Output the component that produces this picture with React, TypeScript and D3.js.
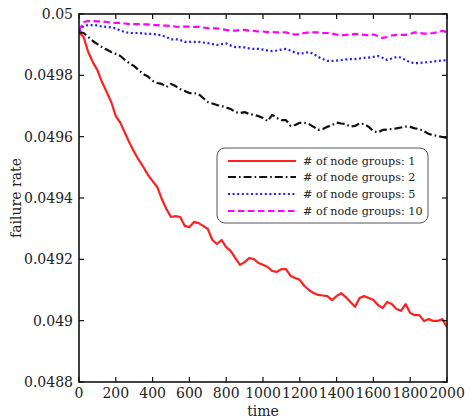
import React from "react";
import * as d3 from "d3";

const times: number[] = d3.range(0, 2001, 25);

const groups1: number[] = [
  0.04994, 0.049925, 0.049876, 0.049843, 0.049817, 0.049778, 0.049746, 0.049713, 0.049667, 0.049645,
  0.049612, 0.049579, 0.04955, 0.049524, 0.049501, 0.049475, 0.049455, 0.049436, 0.049397, 0.049364,
  0.049338, 0.049341, 0.049338, 0.049309, 0.049305, 0.049322, 0.049318, 0.049309, 0.049299, 0.049263,
  0.04925, 0.049263, 0.04924, 0.049227, 0.049204, 0.049182, 0.049191, 0.049204, 0.049201, 0.049188,
  0.049182, 0.049175, 0.049162, 0.049159, 0.049168, 0.049168, 0.049146, 0.049139, 0.049133, 0.049113,
  0.0491, 0.04909, 0.049084, 0.049082, 0.04908, 0.049067, 0.04908, 0.04909, 0.049077, 0.049061,
  0.049045, 0.049074, 0.04908, 0.049074, 0.049067, 0.049051, 0.049041, 0.049061, 0.049054, 0.049038,
  0.049032, 0.049054, 0.049025, 0.049018, 0.049018, 0.048999, 0.049005, 0.048999, 0.048999, 0.049005,
  0.048979,
];

const groups2: number[] = [
  0.049941, 0.049938, 0.049925, 0.049912, 0.049902, 0.049892, 0.049884, 0.049876, 0.04987, 0.049863,
  0.04985, 0.049839, 0.04983, 0.049817, 0.049804, 0.049796, 0.049782, 0.049775, 0.049772, 0.049762,
  0.049772, 0.049765, 0.049755, 0.049749, 0.049742, 0.049742, 0.049739, 0.049726, 0.049713, 0.049708,
  0.049703, 0.0497, 0.049695, 0.04969, 0.04968, 0.049677, 0.04968, 0.049674, 0.049671, 0.049667,
  0.049661, 0.049651, 0.049671, 0.049661, 0.049654, 0.049654, 0.049635, 0.049638, 0.049645, 0.049645,
  0.049641, 0.049632, 0.049622, 0.049625, 0.049632, 0.049638, 0.049646, 0.049643, 0.049641, 0.049633,
  0.049635, 0.049643, 0.049641, 0.049632, 0.049618, 0.049614, 0.049622, 0.049623, 0.049625, 0.049627,
  0.04963, 0.049633, 0.049632, 0.049627, 0.049625, 0.049618, 0.049609, 0.049605, 0.049602, 0.049599,
  0.049596,
];

const groups5: number[] = [
  0.049945, 0.049961, 0.049964, 0.049964, 0.049963, 0.049959, 0.049958, 0.049956, 0.049953, 0.049946,
  0.049941, 0.049938, 0.049938, 0.049938, 0.049936, 0.049935, 0.049935, 0.049933, 0.04993, 0.049925,
  0.049917, 0.049918, 0.049915, 0.049909, 0.049909, 0.049909, 0.049909, 0.049907, 0.049905, 0.049902,
  0.049899, 0.049902, 0.049904, 0.049897, 0.049892, 0.049892, 0.049891, 0.049888, 0.049886, 0.049886,
  0.049884, 0.049881, 0.049879, 0.049881, 0.049884, 0.049886, 0.049881, 0.049874, 0.04987, 0.049873,
  0.049876, 0.04987, 0.04986, 0.049853, 0.049847, 0.049847, 0.049848, 0.04985, 0.049852, 0.049853,
  0.049853, 0.049855, 0.049857, 0.049858, 0.04986, 0.049863, 0.049857, 0.04985, 0.049855, 0.04986,
  0.049858, 0.04985, 0.049842, 0.04984, 0.04984, 0.049842, 0.049843, 0.049845, 0.049847, 0.049848,
  0.04985,
];

const groups10: number[] = [
  0.049945, 0.049974, 0.049977, 0.049977, 0.049976, 0.049976, 0.049974, 0.049972, 0.049971, 0.049971,
  0.049969, 0.049967, 0.049967, 0.049967, 0.049966, 0.049966, 0.049964, 0.049964, 0.049962, 0.049962,
  0.049961, 0.049959, 0.049958, 0.049959, 0.049959, 0.049958, 0.049958, 0.049956, 0.049954, 0.049953,
  0.049953, 0.049951, 0.049948, 0.049946, 0.049946, 0.049948, 0.049948, 0.049946, 0.049945, 0.049943,
  0.049943, 0.049941, 0.049941, 0.04994, 0.04994, 0.04994, 0.049936, 0.049933, 0.049935, 0.049938,
  0.04994, 0.04994, 0.04994, 0.049938, 0.049938, 0.049936, 0.049933, 0.04993, 0.049932, 0.049933,
  0.049935, 0.049933, 0.049932, 0.04993, 0.049933, 0.049928, 0.049922, 0.049925, 0.04993, 0.049932,
  0.049932, 0.049932, 0.049935, 0.04994, 0.049938, 0.049936, 0.049936, 0.049938, 0.049941, 0.049945,
  0.049941,
];

const xTicks: number[] = [0, 200, 400, 600, 800, 1000, 1200, 1400, 1600, 1800, 2000];
const yTicks: number[] = [0.0488, 0.049, 0.0492, 0.0494, 0.0496, 0.0498, 0.05];
const yTickLabels: string[] = ["0.0488", "0.049", "0.0492", "0.0494", "0.0496", "0.0498", "0.05"];
const seriesLabels: string[] = [
  "# of node groups: 1",
  "# of node groups: 2",
  "# of node groups: 5",
  "# of node groups: 10",
];

const W = 465;
const H = 420;
const M = { left: 79, right: 447, top: 14, bottom: 382 };
const FONT = "'DejaVu Serif', serif";

const styles = [
  { color: "#ff1f1f", dash: "", width: 2.2 },
  { color: "#111111", dash: "8,3,1.6,3", width: 2.2 },
  { color: "#1f1fff", dash: "2,2.6", width: 2.2 },
  { color: "#ff00ff", dash: "6.5,3.5", width: 2.2 },
];

export default function App() {
  const x = d3.scaleLinear().domain([0, 2000]).range([M.left, M.right]);
  const y = d3.scaleLinear().domain([0.0488, 0.05]).range([M.bottom, M.top]);
  const line = d3
    .line<number>()
    .x((_, i) => x(times[i]))
    .y((d) => y(d));
  const data = [groups1, groups2, groups5, groups10];
  const tickLen = 5;

  const legend = { x: 217, y: 148, w: 211, h: 75 };
  const rowY = [161, 177, 194, 211];

  return (
    <svg
      width={W}
      height={H}
      style={{ position: "absolute", left: 0, top: 0, background: "#fff" }}
      fontFamily={FONT}
    >
      <defs>
        <clipPath id="plot">
          <rect x={M.left} y={M.top} width={M.right - M.left} height={M.bottom - M.top} />
        </clipPath>
      </defs>
      <g clipPath="url(#plot)">
        {data.map((d, i) => (
          <path
            key={i}
            d={line(d) || ""}
            fill="none"
            stroke={styles[i].color}
            strokeWidth={styles[i].width}
            strokeDasharray={styles[i].dash || undefined}
            strokeLinejoin="round"
          />
        ))}
      </g>
      {xTicks.map((t) => (
        <g key={"x" + t}>
          <line x1={x(t)} x2={x(t)} y1={M.bottom} y2={M.bottom - tickLen} stroke="#111" strokeWidth={1.2} />
          <line x1={x(t)} x2={x(t)} y1={M.top} y2={M.top + tickLen} stroke="#111" strokeWidth={1.2} />
          <text x={x(t)} y={398} textAnchor="middle" fontSize={14} fill="#222">
            {t}
          </text>
        </g>
      ))}
      {yTicks.map((t, i) => (
        <g key={"y" + t}>
          <line x1={M.left} x2={M.left + tickLen} y1={y(t)} y2={y(t)} stroke="#111" strokeWidth={1.2} />
          <line x1={M.right} x2={M.right - tickLen} y1={y(t)} y2={y(t)} stroke="#111" strokeWidth={1.2} />
          <text x={73} y={y(t) + 5} textAnchor="end" fontSize={14} fill="#222">
            {yTickLabels[i]}
          </text>
        </g>
      ))}
      <rect
        x={M.left}
        y={M.top}
        width={M.right - M.left}
        height={M.bottom - M.top}
        fill="none"
        stroke="#111"
        strokeWidth={1.6}
      />
      <text x={(M.left + M.right) / 2} y={416} textAnchor="middle" fontSize={14} fill="#222">
        time
      </text>
      <text
        transform={`translate(21, ${(M.top + M.bottom) / 2}) rotate(-90)`}
        textAnchor="middle"
        fontSize={14}
        fill="#222"
      >
        failure rate
      </text>
      <rect
        x={legend.x}
        y={legend.y}
        width={legend.w}
        height={legend.h}
        rx={8}
        ry={8}
        fill="#fff"
        stroke="#555"
        strokeWidth={1}
      />
      {seriesLabels.map((s, i) => (
        <g key={s}>
          <line
            x1={228}
            x2={296}
            y1={rowY[i]}
            y2={rowY[i]}
            stroke={styles[i].color}
            strokeWidth={styles[i].width}
            strokeDasharray={styles[i].dash || undefined}
          />
          <text x={303} y={rowY[i] + 4} fontSize={11.2} fill="#222">
            {s}
          </text>
        </g>
      ))}
    </svg>
  );
}
